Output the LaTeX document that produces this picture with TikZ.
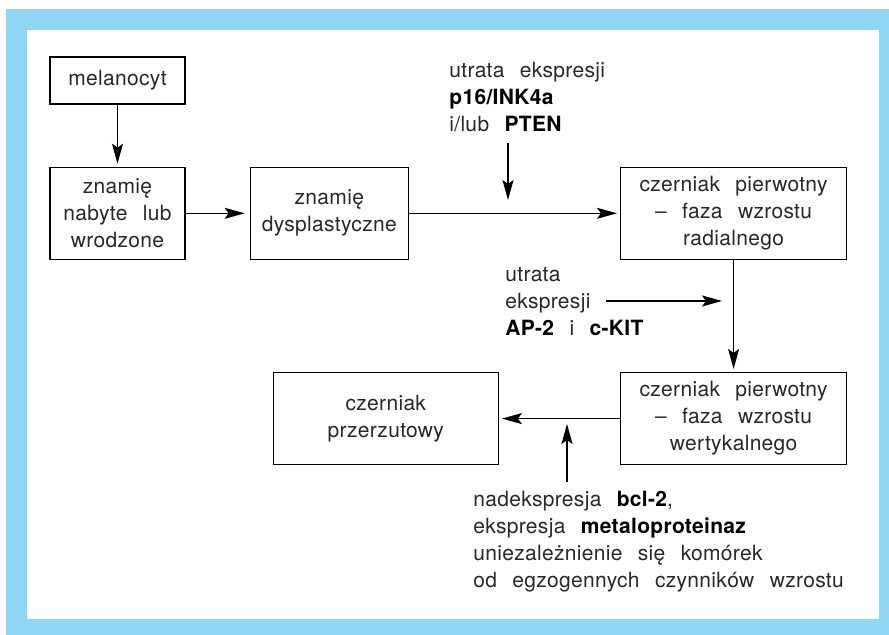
\documentclass[tikz,border=0pt]{standalone}
\usepackage{fontspec}
\setmainfont[WordSpace=2.5,LetterSpace=1.5]{TeX Gyre Heros}
\usepackage{tikz}
\usetikzlibrary{arrows.meta}
\usetikzlibrary{calc}
\usetikzlibrary{positioning}
\definecolor{framebl}{RGB}{143,215,245}
\definecolor{txtgray}{RGB}{40,40,40}
\tikzstyle{block} = [draw, line width=0.65pt, rectangle, align=center,
    text=txtgray, minimum height=46pt, minimum width=67.5pt, inner sep=0pt]
\tikzstyle{note} = [align=left, text=txtgray, inner sep=0pt]
\tikzstyle{link} = [line width=0.6pt, -{Stealth[length=10pt,width=5.5pt,inset=2pt]}]
\newcommand{\gene}[1]{\textcolor{black}{\bfseries #1}}

\begin{document}
\begin{tikzpicture}[x=0.5pt, y=-0.5pt, node distance=31pt,
    font=\fontsize{10.5}{13.5}\selectfont]
    % frame
    \fill[white] (0,0) rectangle (889,635);
    \fill[framebl] (6,9) rectangle (889,635);
    \fill[white] (27,30) rectangle (879,619);

    % We start by placing the blocks
    \node [block, minimum height=23.5pt] (melanocyt) at (117.5,80.5) {melanocyt};
    \node [block, below=31pt of melanocyt] (nabyte) {znamię\\nabyte lub\\wrodzone};
    \node [block, right=32pt of nabyte, minimum width=79pt] (dysplast) {znamię\\dysplastyczne};
    \node [block, right=105.5pt of dysplast, minimum width=113pt] (radial)
        {czerniak pierwotny\\– faza wzrostu\\radialnego};
    \node [block, below=56pt of radial, minimum width=113pt] (vertical)
        {czerniak pierwotny\\– faza wzrostu\\wertykalnego};
    \node [block, left=60.5pt of vertical, minimum width=112.5pt] (meta)
        {czerniak\\przerzutowy};

    % the factors
    \node [note, anchor=north west] (loss1) at (449,62)
        {utrata ekspresji\\\gene{p16/INK4a}\\i/lub \gene{PTEN}};
    \node [note, anchor=north west] (loss2) at (505,267)
        {utrata\\ekspresji\\\gene{AP-2} i \gene{c-KIT}};
    \node [note, anchor=north west] (gain) at (473,491)
        {nadekspresja \gene{bcl-2},\\ekspresja \gene{metaloproteinaz}\\uniezależnienie się komórek\\od egzogennych czynników wzrostu};

    \coordinate (k1s) at (508,143);
    \coordinate (k1e) at (508,200);
    \coordinate (k2s) at (606,301);
    \coordinate (k2e) at (722,301);
    \coordinate (k3s) at (567,482);
    \coordinate (k3e) at (567,424);

    % Once the nodes are placed, connecting them is easy.
    \draw [link, shorten >=1.5pt] (melanocyt) -- (nabyte);
    \draw [link, shorten >=2.5pt] (nabyte) -- (dysplast);
    \draw [link, shorten >=1.5pt] (dysplast) -- (radial);
    \draw [link, shorten >=1.5pt] (radial) -- (vertical);
    \draw [link, shorten >=1.5pt] (vertical) -- (meta);
    \draw [link] (k1s) -- (k1e);
    \draw [link] (k2s) -- (k2e);
    \draw [link] (k3s) -- (k3e);
\end{tikzpicture}
\end{document}
